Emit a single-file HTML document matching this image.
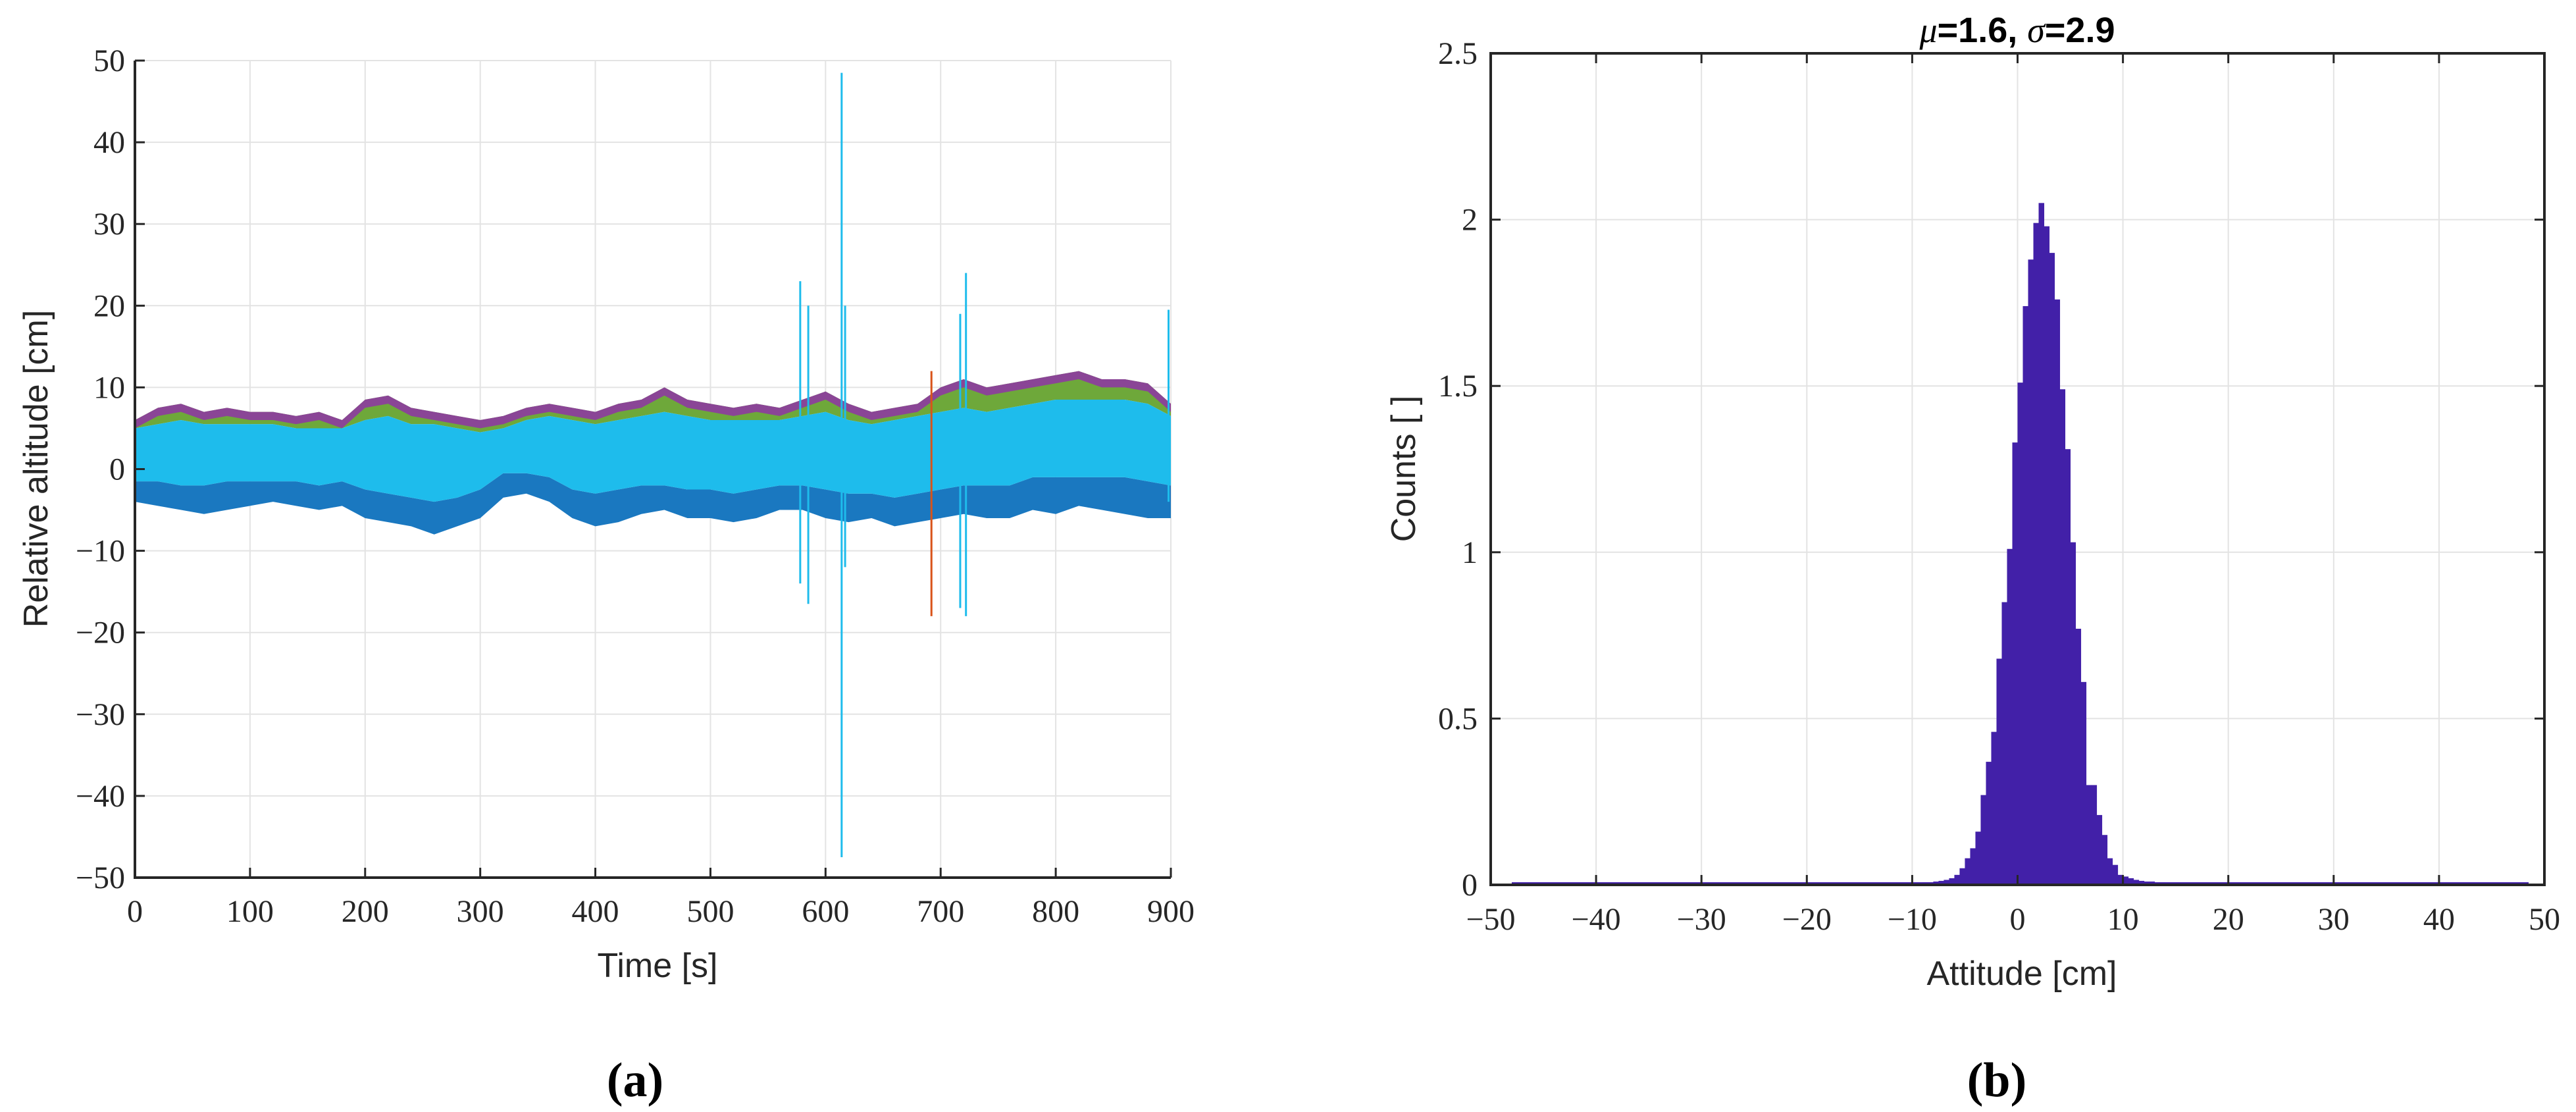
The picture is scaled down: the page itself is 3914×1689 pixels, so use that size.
<!DOCTYPE html>
<html><head><meta charset="utf-8">
<style>
html,body{margin:0;padding:0;background:#fff;}
svg{display:block;}
.tk{font-family:"Liberation Serif",serif;font-size:48px;fill:#262626;}
.lb{font-family:"Liberation Sans",sans-serif;font-size:52px;fill:#262626;}
</style></head>
<body>
<svg id="fig" width="3914" height="1689" viewBox="0 0 3914 1689" xmlns="http://www.w3.org/2000/svg">
<g id="left"></g>
<g id="right"></g>
<text x="965" y="1665" text-anchor="middle" font-family="Liberation Serif,serif" font-size="74" font-weight="bold">(a)</text>
<text x="3034" y="1665" text-anchor="middle" font-family="Liberation Serif,serif" font-size="74" font-weight="bold">(b)</text>
</svg>
<script>
// ---- Left chart data (envelopes every 20 s) ----
const envTimes = [0,20,40,60,80,100,120,140,160,180,200,220,240,260,280,300,320,340,360,380,400,420,440,460,480,500,520,540,560,580,600,620,640,660,680,700,720,740,760,780,800,820,840,860,880,900];
const envMax  = [6,7.5,8,7,7.5,7,7,6.5,7,6,8.5,9,7.5,7,6.5,6,6.5,7.5,8,7.5,7,8,8.5,10,8.5,8,7.5,8,7.5,8.5,9.5,8,7,7.5,8,10,11,10,10.5,11,11.5,12,11,11,10.5,8];
const envMin  = [-4,-4.5,-5,-5.5,-5,-4.5,-4,-4.5,-5,-4.5,-6,-6.5,-7,-8,-7,-6,-3.5,-3,-4,-6,-7,-6.5,-5.5,-5,-6,-6,-6.5,-6,-5,-5,-6,-6.5,-6,-7,-6.5,-6,-5.5,-6,-6,-5,-5.5,-4.5,-5,-5.5,-6,-6];
const cyanHi  = [5,5.5,6,5.5,5.5,5.5,5.5,5,5,5,6,6.5,5.5,5.5,5,4.5,5,6,6.5,6,5.5,6,6.5,7,6.5,6,6,6,6,6.5,7,6,5.5,6,6.5,7,7.5,7,7.5,8,8.5,8.5,8.5,8.5,8,6.5];
const cyanLo  = [-1.5,-1.5,-2,-2,-1.5,-1.5,-1.5,-1.5,-2,-1.5,-2.5,-3,-3.5,-4,-3.5,-2.5,-0.5,-0.5,-1,-2.5,-3,-2.5,-2,-2,-2.5,-2.5,-3,-2.5,-2,-2,-2.5,-3,-3,-3.5,-3,-2.5,-2,-2,-2,-1,-1,-1,-1,-1,-1.5,-2];
const spikeT   = [578,585,614,617,692,717,722,898];
const spikeHi  = [23,20,48.5,20,12,19,24,19.5];
const spikeLo  = [-14,-16.5,-47.5,-12,-18,-17,-18,-4];
const xTicksL = [0,100,200,300,400,500,600,700,800,900];
const yTicksL = [-50,-40,-30,-20,-10,0,10,20,30,40,50];

// ---- Right chart data (histogram, bin width 0.5 cm) ----
const binStart = -12;
const binWidth = 0.5;
const binHeights = [0.004,0.004,0.005,0.005,0.006,0.006,0.008,0.008,0.01,0.012,0.015,0.02,0.03,0.05,
  0.08,0.11,0.16,0.27,0.37,0.46,0.68,0.85,1.01,1.33,1.51,1.74,1.88,1.99,2.05,1.98,1.90,1.76,1.49,1.31,1.03,0.77,0.61,0.30,0.30,0.21,0.15,0.08,0.06,0.03,
  0.025,0.02,0.015,0.012,0.01,0.01,0.008,0.008,0.006,0.006,0.005,0.005,0.004,0.004,0.003,0.003,0.003,0.002,0.002,0.002,0.002];
const xTicksR = [-50,-40,-30,-20,-10,0,10,20,30,40,50];
const yTicksR = [0,0.5,1,1.5,2,2.5];

const NS="http://www.w3.org/2000/svg";
function mk(parent,tag,attrs){const e=document.createElementNS(NS,tag);for(const k in attrs)e.setAttribute(k,attrs[k]);parent.appendChild(e);return e;}
function fmt(v){return v<0?"\u2212"+Math.abs(v):String(v);}

// ---------- LEFT ----------
const L=document.getElementById('left');
const LX0=205,LX1=1779,LY0=92,LY1=1333;
const lx=t=>LX0+t/900*(LX1-LX0);
const ly=v=>LY0+(50-v)/100*(LY1-LY0);
xTicksL.forEach(t=>{
  const g=mk(L,'line',{x1:lx(t),x2:lx(t),y1:LY0,y2:LY1,stroke:'#e3e3e3','stroke-width':2});
  
  
});
yTicksL.forEach(v=>{
  const g=mk(L,'line',{x1:LX0,x2:LX1,y1:ly(v),y2:ly(v),stroke:'#e3e3e3','stroke-width':2});
  
  
});
function band(hi,lo,color,name){
  let d='M';
  envTimes.forEach((t,i)=>{d+=lx(t)+','+ly(hi[i])+' L';});
  for(let i=envTimes.length-1;i>=0;i--){d+=lx(envTimes[i])+','+ly(lo[i])+(i?' L':' Z');}
  const p=mk(L,'path',{d:d,fill:color});
  
  
}
band(envMax,cyanHi,'#6ea83a','series-green-band');
band(envMax,envMax.map(v=>v-1),'#8a4596','series-purple-band');
band(cyanLo,envMin,'#1a78c0','series-blue-band');
band(cyanHi,cyanLo,'#1ebcec','series-cyan-band');
const spikeColors=['#1ebcec','#1ebcec','#1ebcec','#1ebcec','#D95319','#1ebcec','#1ebcec','#1ebcec'];
spikeT.forEach((t,i)=>{
  const s=mk(L,'line',{x1:lx(t),x2:lx(t),y1:ly(spikeHi[i]),y2:ly(spikeLo[i]),stroke:spikeColors[i],'stroke-width':3});
  
  
});
const la=mk(L,'path',{d:`M${LX0},${LY0} V${LY1} H${LX1}`,fill:'none',stroke:'#262626','stroke-width':4});


xTicksL.forEach(t=>{
  mk(L,'line',{x1:lx(t),x2:lx(t),y1:LY1,y2:LY1-15,stroke:'#262626','stroke-width':3});
  const tx=mk(L,'text',{x:lx(t),y:1400,'text-anchor':'middle',class:'tk'});
  tx.textContent=fmt(t);
  
  
});
yTicksL.forEach(v=>{
  mk(L,'line',{x1:LX0,x2:LX0+15,y1:ly(v),y2:ly(v),stroke:'#262626','stroke-width':3});
  const tx=mk(L,'text',{x:190,y:ly(v)+16,'text-anchor':'end',class:'tk'});
  tx.textContent=fmt(v);
  
  
});
let t1=mk(L,'text',{x:999,y:1484,'text-anchor':'middle',class:'lb'});t1.textContent='Time [s]';


let t2=mk(L,'text',{x:0,y:0,'text-anchor':'middle',class:'lb',transform:'translate(72,712) rotate(-90)'});t2.textContent='Relative altitude [cm]';



// ---------- RIGHT ----------
const R=document.getElementById('right');
const RX0=2265,RX1=3866,RY0=81,RY1=1344;
const rx=v=>RX0+(v+50)/100*(RX1-RX0);
const ry=v=>RY1-v/2.5*(RY1-RY0);
xTicksR.forEach(v=>{
  const g=mk(R,'line',{x1:rx(v),x2:rx(v),y1:RY0,y2:RY1,stroke:'#e3e3e3','stroke-width':2});
  
  
});
yTicksR.forEach(v=>{
  const g=mk(R,'line',{x1:RX0,x2:RX1,y1:ry(v),y2:ry(v),stroke:'#e3e3e3','stroke-width':2});
  
  
});
const base=mk(R,'line',{x1:rx(-48),x2:rx(48.5),y1:RY1-2,y2:RY1-2,stroke:'#4220A8','stroke-width':4});


binHeights.forEach((h,i)=>{
  const a=binStart+i*binWidth;
  const b=mk(R,'rect',{x:rx(a),y:ry(h),width:rx(a+binWidth)-rx(a)+0.5,height:RY1-ry(h),fill:'#4220A8'});
  
  
});
const box=mk(R,'rect',{x:RX0,y:RY0,width:RX1-RX0,height:RY1-RY0,fill:'none',stroke:'#262626','stroke-width':4});


xTicksR.forEach(v=>{
  mk(R,'line',{x1:rx(v),x2:rx(v),y1:RY1,y2:RY1-15,stroke:'#262626','stroke-width':3});
  mk(R,'line',{x1:rx(v),x2:rx(v),y1:RY0,y2:RY0+15,stroke:'#262626','stroke-width':3});
  const tx=mk(R,'text',{x:rx(v),y:1412,'text-anchor':'middle',class:'tk'});
  tx.textContent=fmt(v);
  
  
});
yTicksR.forEach(v=>{
  mk(R,'line',{x1:RX0,x2:RX0+15,y1:ry(v),y2:ry(v),stroke:'#262626','stroke-width':3});
  mk(R,'line',{x1:RX1,x2:RX1-15,y1:ry(v),y2:ry(v),stroke:'#262626','stroke-width':3});
  const tx=mk(R,'text',{x:2245,y:ry(v)+16,'text-anchor':'end',class:'tk'});
  tx.textContent=String(v);
  
  
});
let t3=mk(R,'text',{x:3072,y:1496,'text-anchor':'middle',class:'lb'});t3.textContent='Attitude [cm]';


let t4=mk(R,'text',{x:0,y:0,'text-anchor':'middle',class:'lb',transform:'translate(2150,712) rotate(-90)'});t4.textContent='Counts [ ]';


let t5=mk(R,'text',{x:3065,y:64,'text-anchor':'middle','font-family':'Liberation Sans,sans-serif','font-size':54,'font-weight':'bold',fill:'#000'});
t5.innerHTML='<tspan font-family="Liberation Serif,serif" font-style="italic" font-weight="normal">μ</tspan>=1.6, <tspan font-family="Liberation Serif,serif" font-style="italic" font-weight="normal">σ</tspan>=2.9';


</script>
</body></html>
